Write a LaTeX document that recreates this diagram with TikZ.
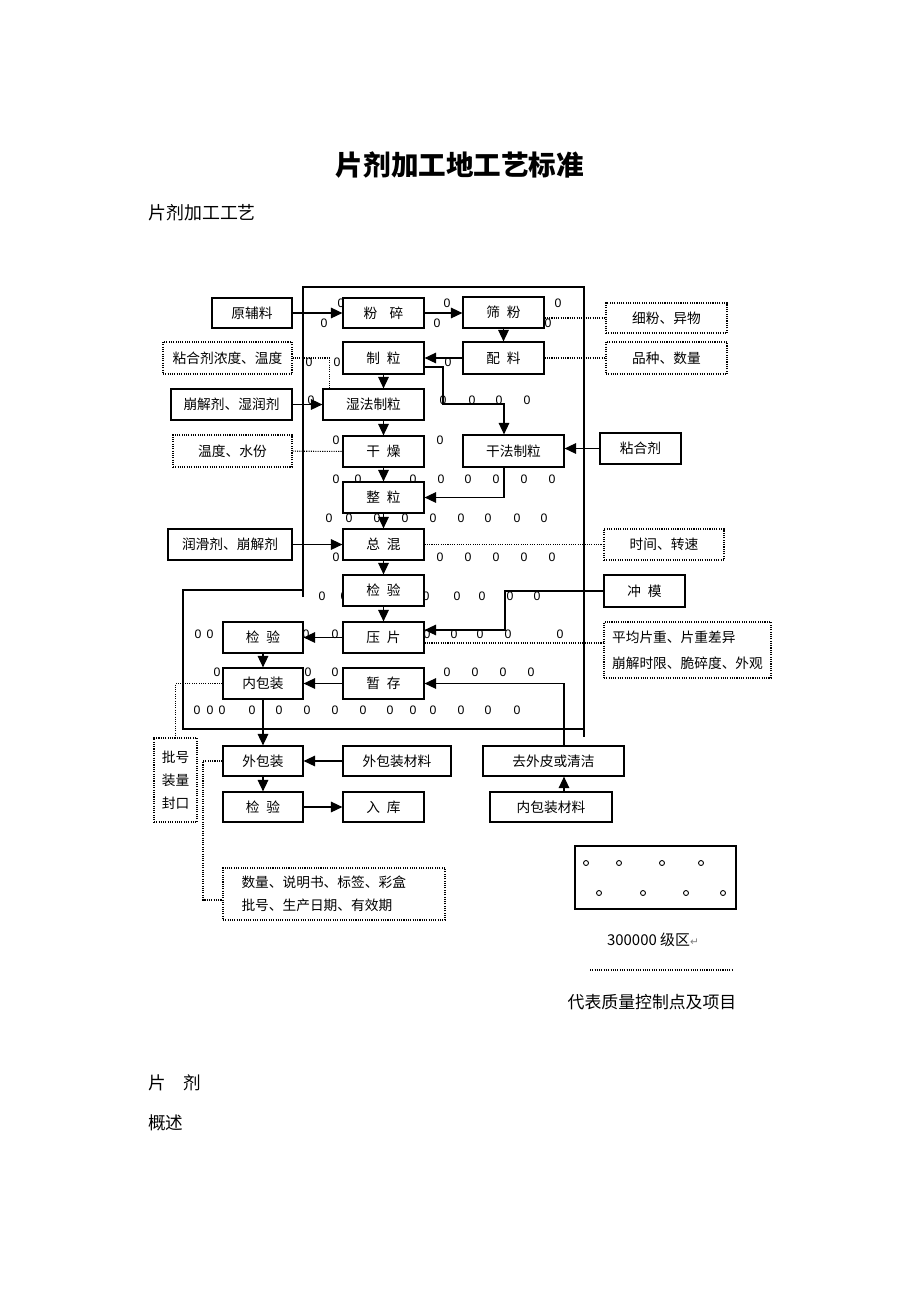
\documentclass[tikz,border=0pt]{standalone}
\usepackage{fontspec}
\setmainfont{Noto Sans CJK SC}
\newfontfamily\digitfont{Liberation Sans}
\newfontfamily\symfont{DejaVu Sans}
\usepackage{tikz}
\usetikzlibrary{arrows.meta}
\pgfdeclarelayer{zerolayer}
\pgfdeclarelayer{nodelayer}
\pgfdeclarelayer{edgelayer}
\pgfsetlayers{zerolayer,edgelayer,nodelayer,main}
\newcommand{\wsp}{\hspace{0.5em}}
\tikzstyle{flow box}=[fill=white, draw=black, line width=0.7pt, inner sep=0pt, font=\fontsize{7.8}{9}\selectfont]
\tikzstyle{note box}=[fill=white, draw=black, dash pattern=on 0.6pt off 0.7pt, line width=0.6pt, inner sep=0pt, font=\fontsize{7.8}{9}\selectfont]
\tikzstyle{flow edge}=[-{Triangle[length=6.5pt,width=6pt]}, line width=0.7pt]
\tikzstyle{note edge}=[dash pattern=on 0.6pt off 0.7pt, line width=0.6pt]
\tikzstyle{zero}=[inner sep=0pt, font=\digitfont\fontsize{7}{8}\selectfont]

\begin{document}
\begin{tikzpicture}[x=0.02cm, y=-0.02cm]
	\useasboundingbox (0,0) rectangle (920,1302);
	\node (t0) at (460,165) {\fontsize{15.7}{18}\selectfont\bfseries 片剂加工地工艺标准};
	\node [anchor=west, inner sep=0pt] (t1) at (148,213) {\fontsize{10.2}{12}\selectfont 片剂加工工艺};
	\node [anchor=west, inner sep=0pt] (t2) at (148,1083) {\fontsize{10}{12}\selectfont 片　剂};
	\node [anchor=west, inner sep=0pt] (t3) at (148,1123) {\fontsize{10}{12}\selectfont 概述};
	\begin{pgfonlayer}{zerolayer}
		\foreach \x in {341,447,558} \node [style=zero] (a\x) at (\x,303) {0};
		\foreach \x in {324,437,548} \node [style=zero] (b\x) at (\x,323) {0};
		\foreach \x in {309,337,448} \node [style=zero] (c\x) at (\x,362) {0};
		\foreach \x in {311,443,472,499,527} \node [style=zero] (d\x) at (\x,400) {0};
		\foreach \x in {336,440} \node [style=zero] (e\x) at (\x,440) {0};
		\foreach \x in {336,358,413,441,468,496,524,552} \node [style=zero] (f\x) at (\x,479) {0};
		\foreach \x in {329,349,377,405,433,461,488,517,544} \node [style=zero] (g\x) at (\x,518) {0};
		\foreach \x in {336,440,468,496,524,552} \node [style=zero] (h\x) at (\x,557) {0};
		\foreach \x in {322,344,426,457,482,510,537} \node [style=zero] (i\x) at (\x,596) {0};
		\foreach \x in {198,210,306,335,427,454,480,508,560} \node [style=zero] (j\x) at (\x,634) {0};
		\foreach \x in {217,308,335,447,475,503,531} \node [style=zero] (k\x) at (\x,672) {0};
		\foreach \x in {197,210,222,252,279,307,335,363,390,413,433,461,488,517} \node [style=zero] (l\x) at (\x,710) {0};
	\end{pgfonlayer}
	\begin{pgfonlayer}{nodelayer}
		\node [style=flow box, minimum width=1.6cm, minimum height=0.6cm] (0) at (252,313) {原辅料};
		\node [style=flow box, minimum width=1.62cm, minimum height=0.6cm] (1) at (383.5,313) {粉\hspace{0.9em}碎};
		\node [style=flow box, minimum width=1.62cm, minimum height=0.62cm] (2) at (503.5,312.5) {筛\wsp 粉};
		\node [style=flow box, minimum width=1.62cm, minimum height=0.64cm] (3) at (383.5,358) {制\wsp 粒};
		\node [style=flow box, minimum width=1.62cm, minimum height=0.64cm] (4) at (503.5,358) {配\wsp 料};
		\node [style=flow box, minimum width=2.02cm, minimum height=0.62cm] (5) at (373.5,404.5) {湿法制粒};
		\node [style=flow box, minimum width=2.42cm, minimum height=0.62cm] (6) at (231.5,404.5) {崩解剂、湿润剂};
		\node [style=note box, minimum width=2.58cm, minimum height=0.64cm] (7) at (227.5,358) {粘合剂浓度、温度};
		\node [style=note box, minimum width=2.38cm, minimum height=0.64cm] (8) at (232.5,451) {温度、水份};
		\node [style=flow box, minimum width=1.62cm, minimum height=0.62cm] (9) at (383.5,451.5) {干\wsp 燥};
		\node [style=flow box, minimum width=2.02cm, minimum height=0.64cm] (10) at (513.5,451) {干法制粒};
		\node [style=flow box, minimum width=1.62cm, minimum height=0.62cm] (11) at (640.5,448.5) {粘合剂};
		\node [style=note box, minimum width=2.42cm, minimum height=0.6cm] (12) at (666.5,318) {细粉、异物};
		\node [style=note box, minimum width=2.42cm, minimum height=0.64cm] (13) at (666.5,358) {品种、数量};
		\node [style=flow box, minimum width=1.62cm, minimum height=0.62cm] (14) at (383.5,497.5) {整\wsp 粒};
		\node [style=flow box, minimum width=1.62cm, minimum height=0.62cm] (15) at (383.5,544.5) {总\wsp 混};
		\node [style=flow box, minimum width=2.48cm, minimum height=0.62cm] (16) at (230,544.5) {润滑剂、崩解剂};
		\node [style=note box, minimum width=2.4cm, minimum height=0.62cm] (17) at (664,544.5) {时间、转速};
		\node [style=flow box, minimum width=1.62cm, minimum height=0.62cm] (18) at (383.5,590.5) {检\wsp 验};
		\node [style=flow box, minimum width=1.62cm, minimum height=0.64cm] (19) at (644.5,591) {冲\wsp 模};
		\node [style=flow box, minimum width=1.62cm, minimum height=0.62cm] (20) at (383.5,637.5) {压\wsp 片};
		\node [style=flow box, minimum width=1.6cm, minimum height=0.62cm] (21) at (263,637.5) {检\wsp 验};
		\node [style=note box, minimum width=3.34cm, minimum height=1.12cm, align=left, font=\fontsize{7.8}{14.7}\selectfont] (22) at (687.5,650) {平均片重、片重差异\\崩解时限、脆碎度、外观};
		\node [style=flow box, minimum width=1.6cm, minimum height=0.62cm] (23) at (263,683.5) {内包装};
		\node [style=flow box, minimum width=1.62cm, minimum height=0.62cm] (24) at (383.5,683.5) {暂\wsp 存};
		\node [style=flow box, minimum width=1.6cm, minimum height=0.6cm] (25) at (263,761) {外包装};
		\node [style=flow box, minimum width=2.16cm, minimum height=0.6cm] (26) at (397,761) {外包装材料};
		\node [style=flow box, minimum width=2.82cm, minimum height=0.6cm] (27) at (553.5,761) {去外皮或清洁};
		\node [style=flow box, minimum width=1.6cm, minimum height=0.6cm] (28) at (263,807) {检\wsp 验};
		\node [style=flow box, minimum width=1.62cm, minimum height=0.6cm] (29) at (383.5,807) {入\wsp 库};
		\node [style=flow box, minimum width=2.44cm, minimum height=0.6cm] (30) at (551,807) {内包装材料};
		\node [style=note box, minimum width=0.86cm, minimum height=1.68cm, align=center, font=\fontsize{7.8}{13}\selectfont] (31) at (175.5,780) {批号\\装量\\封口};
		\node [style=note box, minimum width=4.44cm, minimum height=1.04cm, text width=3.7cm, align=left, font=\fontsize{7.8}{13}\selectfont] (32) at (334,894) {数量、说明书、标签、彩盒\\批号、生产日期、有效期};
		\node [style=flow box, minimum width=3.22cm, minimum height=1.26cm] (33) at (655.5,877.5) {};
		\node (34) at (653,940) {\fontsize{8.5}{10}\selectfont 300000 级区{\symfont\fontsize{6}{8}\selectfont\color{gray}↵}};
		\node (35) at (652,1002) {\fontsize{9.6}{12}\selectfont 代表质量控制点及项目};
	\end{pgfonlayer}
	\begin{pgfonlayer}{edgelayer}
		\draw [line width=0.7pt] (303,597) -- (303,287) -- (584,287) -- (584,737);
		\draw [line width=0.7pt] (303,590) -- (183,590) -- (183,729) -- (584,729);
		\coordinate (c0) at (443,404);
		\coordinate (c1) at (504,404);
		\coordinate (c2) at (505,630);
		\coordinate (c3) at (564,729);
		\coordinate (c4) at (203,900);
		\coordinate (c5) at (590,970);
		\coordinate (c6) at (732,970);
		\draw [style=flow edge] (0) -- (1);
		\draw [style=flow edge] (1.east) -- (1.east -| 2.west);
		\draw [style=flow edge] (2) -- (4);
		\draw [style=flow edge] (4) -- (3);
		\draw [style=flow edge] ([yshift=-0.18cm]3.east) -| (c0) -- (c1) -- (c1 |- 10.north);
		\draw [style=flow edge] (3) -- (3 |- 5.north);
		\draw [style=flow edge] (6) -- (5);
		\draw [style=flow edge] (5.south -| 9) -- (9);
		\draw [style=flow edge] (9) -- (14);
		\draw [style=flow edge] (11.west) -- (11.west -| 10.east);
		\draw [style=flow edge] (c1 |- 10.south) |- (14.east);
		\draw [style=flow edge] (14) -- (15);
		\draw [style=flow edge] (16) -- (15);
		\draw [style=flow edge] (15) -- (18);
		\draw [style=flow edge] (18) -- (20);
		\draw [style=flow edge] (19.west) -| (c2) -- (c2 -| 20.east);
		\draw [style=flow edge] (20) -- (21);
		\draw [style=flow edge] (21) -- (23);
		\draw [style=flow edge] (24) -- (23);
		\draw [style=flow edge] (27.north -| c3) |- (24.east);
		\draw [style=flow edge] (23) -- (25);
		\draw [style=flow edge] (26) -- (25);
		\draw [style=flow edge] (25) -- (28);
		\draw [style=flow edge] (28) -- (29);
		\draw [style=flow edge] (30.north -| c3) -- (27.south -| c3);
		\draw [style=note edge] (7.east) -| ([xshift=0.14cm]5.north west);
		\draw [style=note edge] (8) -- (9);
		\draw [style=note edge] (12.west -| 2.east) -- (12.west);
		\draw [style=note edge] (4) -- (13);
		\draw [style=note edge] (15) -- (17);
		\draw [style=note edge] ([yshift=-0.11cm]20.east) -- ([yshift=-0.11cm]20.east -| 22.west);
		\draw [style=note edge] (23.west) -| (31.north);
		\draw [style=note edge] (25.west) -| (c4) -- (c4 -| 32.west);
		\draw [style=note edge] (c5) -- (c6);
	\end{pgfonlayer}
	\foreach \x in {586,619,662,701} \draw [line width=0.5pt] (\x,863) circle [radius=0.05cm];
	\foreach \x in {599,643,686,723} \draw [line width=0.5pt] (\x,893) circle [radius=0.05cm];
\end{tikzpicture}
\end{document}
